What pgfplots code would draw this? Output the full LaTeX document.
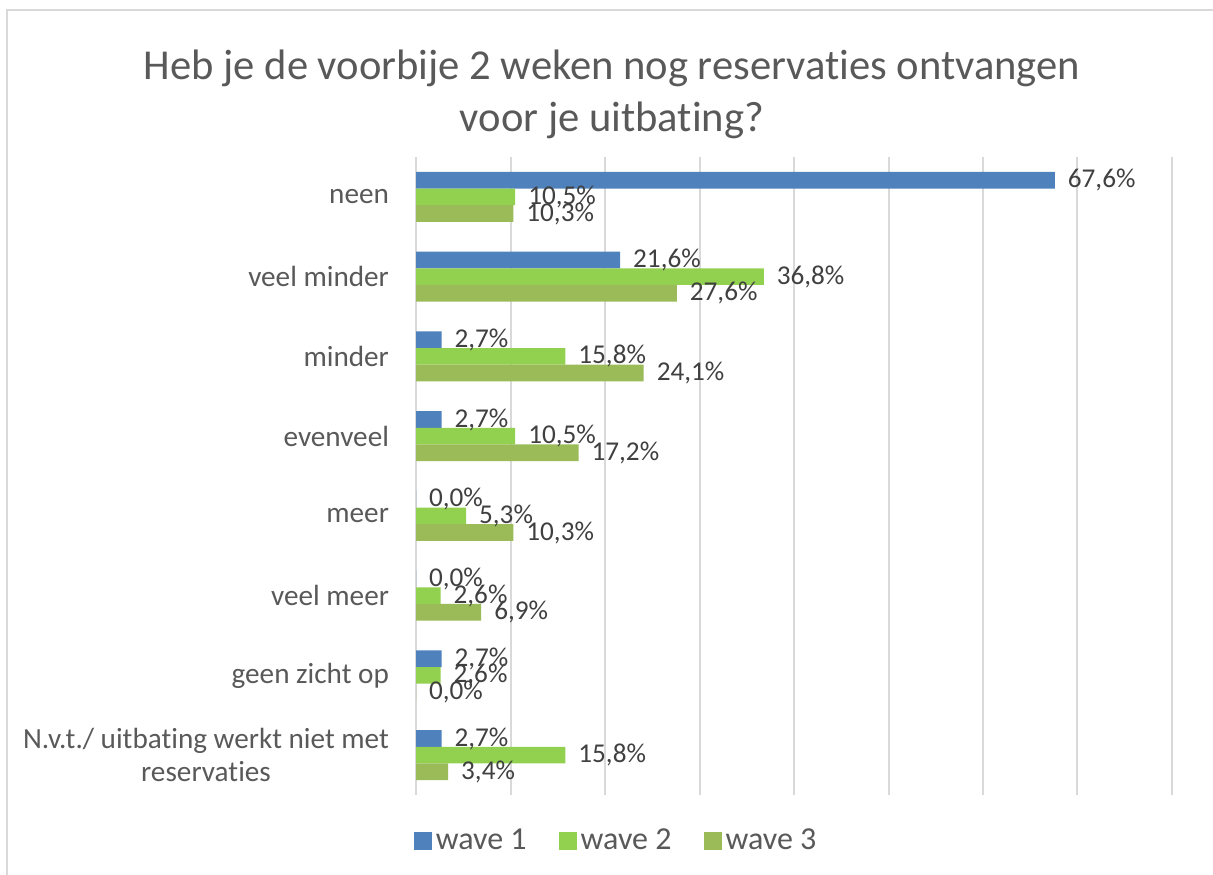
\documentclass[border=0pt]{standalone}
\usepackage{pgfplots}
\pgfplotsset{compat=1.18}
\usepackage{fontspec}
\setmainfont{Carlito}[RawFeature={-liga;-clig;-dlig}]
\definecolor{wone}{HTML}{4F81BD}
\definecolor{wtwo}{HTML}{92D050}
\definecolor{wthree}{HTML}{9BBB59}
\definecolor{txt}{HTML}{595959}
\definecolor{lab}{HTML}{404040}
\definecolor{grd}{HTML}{D9D9D9}
\begin{document}
\begin{tikzpicture}
\clip (0,0) rectangle (606.5pt,437pt);
\draw[grd, line width=1pt] (3.5pt,-20pt) rectangle (640pt,432pt);
\node[txt, anchor=base, font=\fontsize{21.3pt}{25pt}\selectfont, inner sep=0pt] at (306pt,397pt) {Heb je de voorbije 2 weken nog reservaties ontvangen};
\node[txt, anchor=base, font=\fontsize{21.3pt}{25pt}\selectfont, inner sep=0pt] at (306pt,371pt) {voor je uitbating?};
\begin{axis}[
  at={(208pt,39.5pt)}, anchor=south west,
  scale only axis, width=378pt, height=319pt,
  xbar, bar width=8.3pt,
  xmin=0, xmax=80, ymin=-0.5, ymax=7.5,
  xtick={0,10,...,80}, xticklabels={},
  xmajorgrids, major grid style={grd, line width=1pt},
  axis line style={draw=none},
  major tick length=0pt,
  ytick={0,...,7},
  yticklabels={{N.v.t./ uitbating werkt niet met\\reservaties},geen zicht op,veel meer,meer,evenveel,minder,veel minder,neen},
  yticklabel style={align=center, txt, font=\fontsize{14.6pt}{16.5pt}\selectfont, xshift=-10pt},
  nodes near coords={\pgfmathprintnumber[assume math mode=true,fixed,fixed zerofill,precision=1,use comma]{\pgfplotspointmeta}\%},
  point meta=x,
  nodes near coords style={anchor=west, lab, font=\fontsize{13.6pt}{15pt}\selectfont, xshift=3pt},
  legend columns=3,
  legend style={at={(0.266,-0.072)}, anchor=center, draw=none, fill=none,
    font=\fontsize{16pt}{18pt}\selectfont, text=txt,
    /tikz/every even column/.append style={column sep=14pt}},
  legend image code/.code={\fill[#1, draw=none] (-4pt,-4.5pt) rectangle (5pt,4.5pt);},
]
\addplot[fill=wone, draw=none, bar shift=8.3pt] coordinates {(67.6,7) (21.6,6) (2.7,5) (2.7,4) (0.0,3) (0.0,2) (2.7,1) (2.7,0)};
\addplot[fill=wtwo, draw=none, bar shift=0pt] coordinates {(10.5,7) (36.8,6) (15.8,5) (10.5,4) (5.3,3) (2.6,2) (2.6,1) (15.8,0)};
\addplot[fill=wthree, draw=none, bar shift=-8.3pt] coordinates {(10.3,7) (27.6,6) (24.1,5) (17.2,4) (10.3,3) (6.9,2) (0.0,1) (3.4,0)};
\legend{wave 1,wave 2,wave 3}
\end{axis}
\end{tikzpicture}
\end{document}
